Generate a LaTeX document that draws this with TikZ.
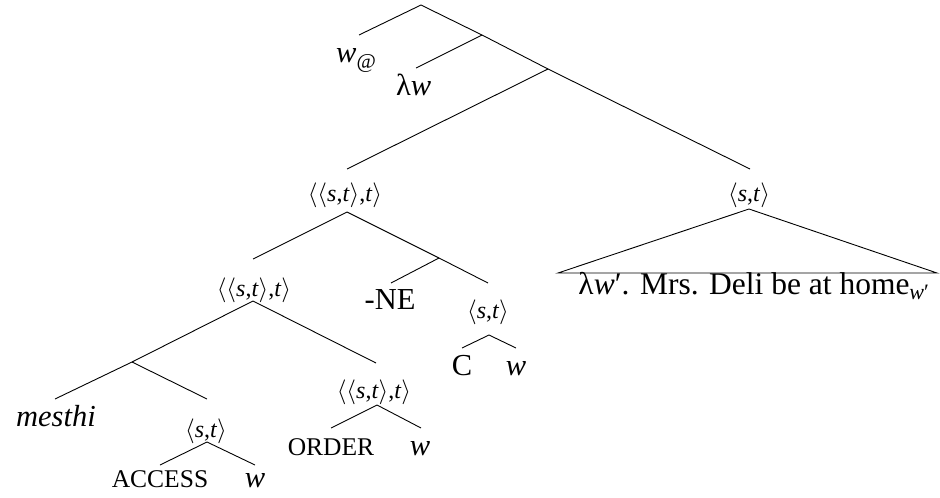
\documentclass[tikz,border=0pt]{standalone}
\usepackage{fontspec}
\setmainfont{Liberation Serif}
\newcommand\ang[1]{$\langle$#1$\rangle$}
\newcommand\stt{\textit{s},\textit{t}}
\tikzset{
  big/.style={font=\fontsize{30.5}{33}\selectfont, inner sep=0pt},
  typ/.style={font=\fontsize{24}{26}\selectfont, inner sep=0pt},
  capsm/.style={font=\fontsize{25.5}{28}\selectfont, inner sep=0pt},
  br/.style={line width=0.9pt},
}
\begin{document}
\begin{tikzpicture}[x=1pt,y=-1pt]
\useasboundingbox (0,0) rectangle (940,498);
% top spine
\coordinate (r0) at (421,5);
\coordinate (r0L) at (359,35);
\coordinate (r1) at (482,35);
\coordinate (r1L) at (416,68);
\coordinate (r2) at (548,69);
\coordinate (r2L) at (347,169);
\coordinate (r2R) at (750,169);
\draw[br] (r0L) -- (r0) -- (r1) -- (r2) -- (r2R);
\draw[br] (r1) -- (r1L);
\draw[br] (r2) -- (r2L);
\node[big, anchor=base west] (wat) at (336,62) {\textit{w}\raisebox{-6pt}{\fontsize{21}{23}\selectfont @}};
\node[big, anchor=base west] (lw) at (396,95) {λ\textit{w}};
% A
\node[typ] (A) at (345,195) {\ang{\ang{\stt},\textit{t}}};
\coordinate (a0) at (347,212);
\coordinate (a0L) at (253,259);
\coordinate (a1) at (439,258);
\coordinate (a1L) at (391,283);
\coordinate (a1R) at (488,283);
\draw[br] (a0L) -- (a0) -- (a1) -- (a1R);
\draw[br] (a1) -- (a1L);
\node[big] (ne) at (390,300) {-NE};
\node[typ] (cst) at (488,312) {\ang{\stt}};
\coordinate (c0) at (489,335);
\coordinate (c0L) at (462,348);
\coordinate (c0R) at (516,348);
\draw[br] (c0L) -- (c0) -- (c0R);
\node[big, anchor=base] (C) at (462,375) {C};
\node[big, anchor=base] (cw) at (516,375) {\textit{w}};
% B
\node[typ] (B) at (254,290) {\ang{\ang{\stt},\textit{t}}};
\coordinate (b0) at (253,301);
\coordinate (b0L) at (55,399);
\coordinate (b1) at (132,362);
\coordinate (b1R) at (207,399);
\coordinate (b0R) at (376,363);
\draw[br] (b0L) -- (b1) -- (b0) -- (b0R);
\draw[br] (b1) -- (b1R);
\node[big, anchor=base] (mesthi) at (56,426) {\textit{mesthi}};
\node[typ] (est) at (206,431) {\ang{\stt}};
\coordinate (e0) at (207,442);
\coordinate (e0L) at (160,465);
\coordinate (e0R) at (255,465);
\draw[br] (e0L) -- (e0) -- (e0R);
\node[capsm, anchor=base] (access) at (160,487) {ACCESS};
\node[big, anchor=base] (ew) at (255,487) {\textit{w}};
% D
\node[typ] (D) at (374,392) {\ang{\ang{\stt},\textit{t}}};
\coordinate (d0) at (377,405);
\coordinate (d0L) at (331,428);
\coordinate (d0R) at (421,428);
\draw[br] (d0L) -- (d0) -- (d0R);
\node[capsm, anchor=base] (order) at (331,455) {ORDER};
\node[big, anchor=base] (dw) at (420,455) {\textit{w}};
% right
\node[typ] (R) at (749,195) {\ang{\stt}};
\coordinate (t0) at (749,209);
\coordinate (tL) at (558,273);
\coordinate (tR) at (937,273);
\draw[br] (tL) -- (t0) -- (tR) -- cycle;
\node[big, font=\fontsize{31.5}{34}\selectfont, anchor=base] (prop) at (754,294) {λ\textit{w}′. Mrs. Deli be at home\textsubscript{\textit{w}′}};
\end{tikzpicture}
\end{document}
